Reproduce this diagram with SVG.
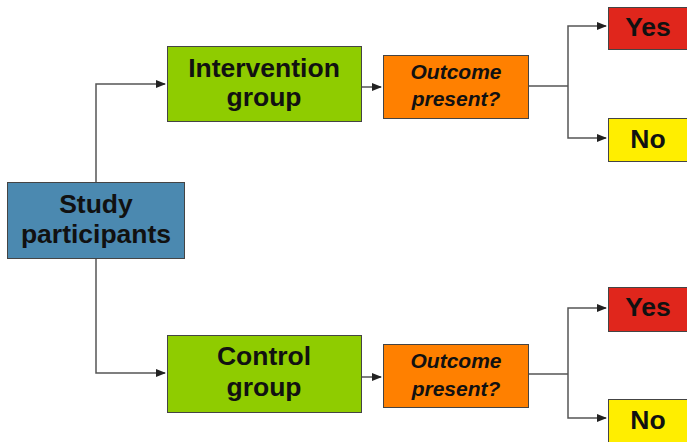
<svg xmlns="http://www.w3.org/2000/svg" width="687" height="442" viewBox="0 0 687 442">
<style>
.box{stroke:#444;stroke-width:1}
.t{font-family:"Liberation Sans",Arial,sans-serif;font-weight:bold;font-size:26.5px;fill:#111;text-anchor:middle}
.o{font-family:"Liberation Sans",Arial,sans-serif;font-weight:bold;font-style:italic;font-size:21px;fill:#111;text-anchor:middle}
.c{fill:none;stroke:#555;stroke-width:1.5}
</style>
<defs>
<marker id="ah" markerWidth="10" markerHeight="8" refX="9" refY="4" orient="auto" markerUnits="userSpaceOnUse">
<path d="M0,0 L10,4 L0,8 Z" fill="#222"/>
</marker>
</defs>
<rect width="687" height="442" fill="#fff"/>
<g id="connectors">
<path class="c" d="M96,182 V84 H165" marker-end="url(#ah)"/>
<path class="c" d="M96,258 V373 H165" marker-end="url(#ah)"/>
<path class="c" d="M361,87 H381" marker-end="url(#ah)"/>
<path class="c" d="M361,377 H381" marker-end="url(#ah)"/>
<path class="c" d="M528,86 H568"/>
<path class="c" d="M568,86 V26 H606" marker-end="url(#ah)"/>
<path class="c" d="M568,86 V138 H606" marker-end="url(#ah)"/>
<path class="c" d="M528,374 H568"/>
<path class="c" d="M568,374 V308 H606" marker-end="url(#ah)"/>
<path class="c" d="M568,374 V418 H606" marker-end="url(#ah)"/>
</g>
<g id="study">
<rect class="box" x="7.5" y="182.5" width="177" height="76" fill="#4b89b0"/>
<text class="t" x="96" y="213">Study</text>
<text class="t" x="96" y="243">participants</text>
</g>
<g id="intervention">
<rect class="box" x="167.5" y="46.5" width="194" height="75" fill="#8fcc00"/>
<text class="t" x="264" y="77">Intervention</text>
<text class="t" x="264" y="106">group</text>
</g>
<g id="outcome1">
<rect class="box" x="383.5" y="55.5" width="145" height="63" fill="#ff8000"/>
<text class="o" x="456" y="79">Outcome</text>
<text class="o" x="456" y="106">present?</text>
</g>
<g id="yes1">
<rect class="box" x="608.5" y="7.5" width="82" height="42" fill="#e0261c"/>
<text class="t" x="648" y="36">Yes</text>
</g>
<g id="no1">
<rect class="box" x="608.5" y="118.5" width="82" height="43" fill="#ffee00"/>
<text class="t" x="648" y="148">No</text>
</g>
<g id="control">
<rect class="box" x="167.5" y="335.5" width="194" height="77" fill="#8fcc00"/>
<text class="t" x="264" y="365">Control</text>
<text class="t" x="264" y="396">group</text>
</g>
<g id="outcome2">
<rect class="box" x="383.5" y="344.5" width="145" height="63" fill="#ff8000"/>
<text class="o" x="456" y="368">Outcome</text>
<text class="o" x="456" y="396">present?</text>
</g>
<g id="yes2">
<rect class="box" x="608.5" y="287.5" width="82" height="44" fill="#e0261c"/>
<text class="t" x="648" y="316">Yes</text>
</g>
<g id="no2">
<rect class="box" x="608.5" y="399.5" width="82" height="46" fill="#ffee00"/>
<text class="t" x="648" y="429">No</text>
</g>
</svg>
